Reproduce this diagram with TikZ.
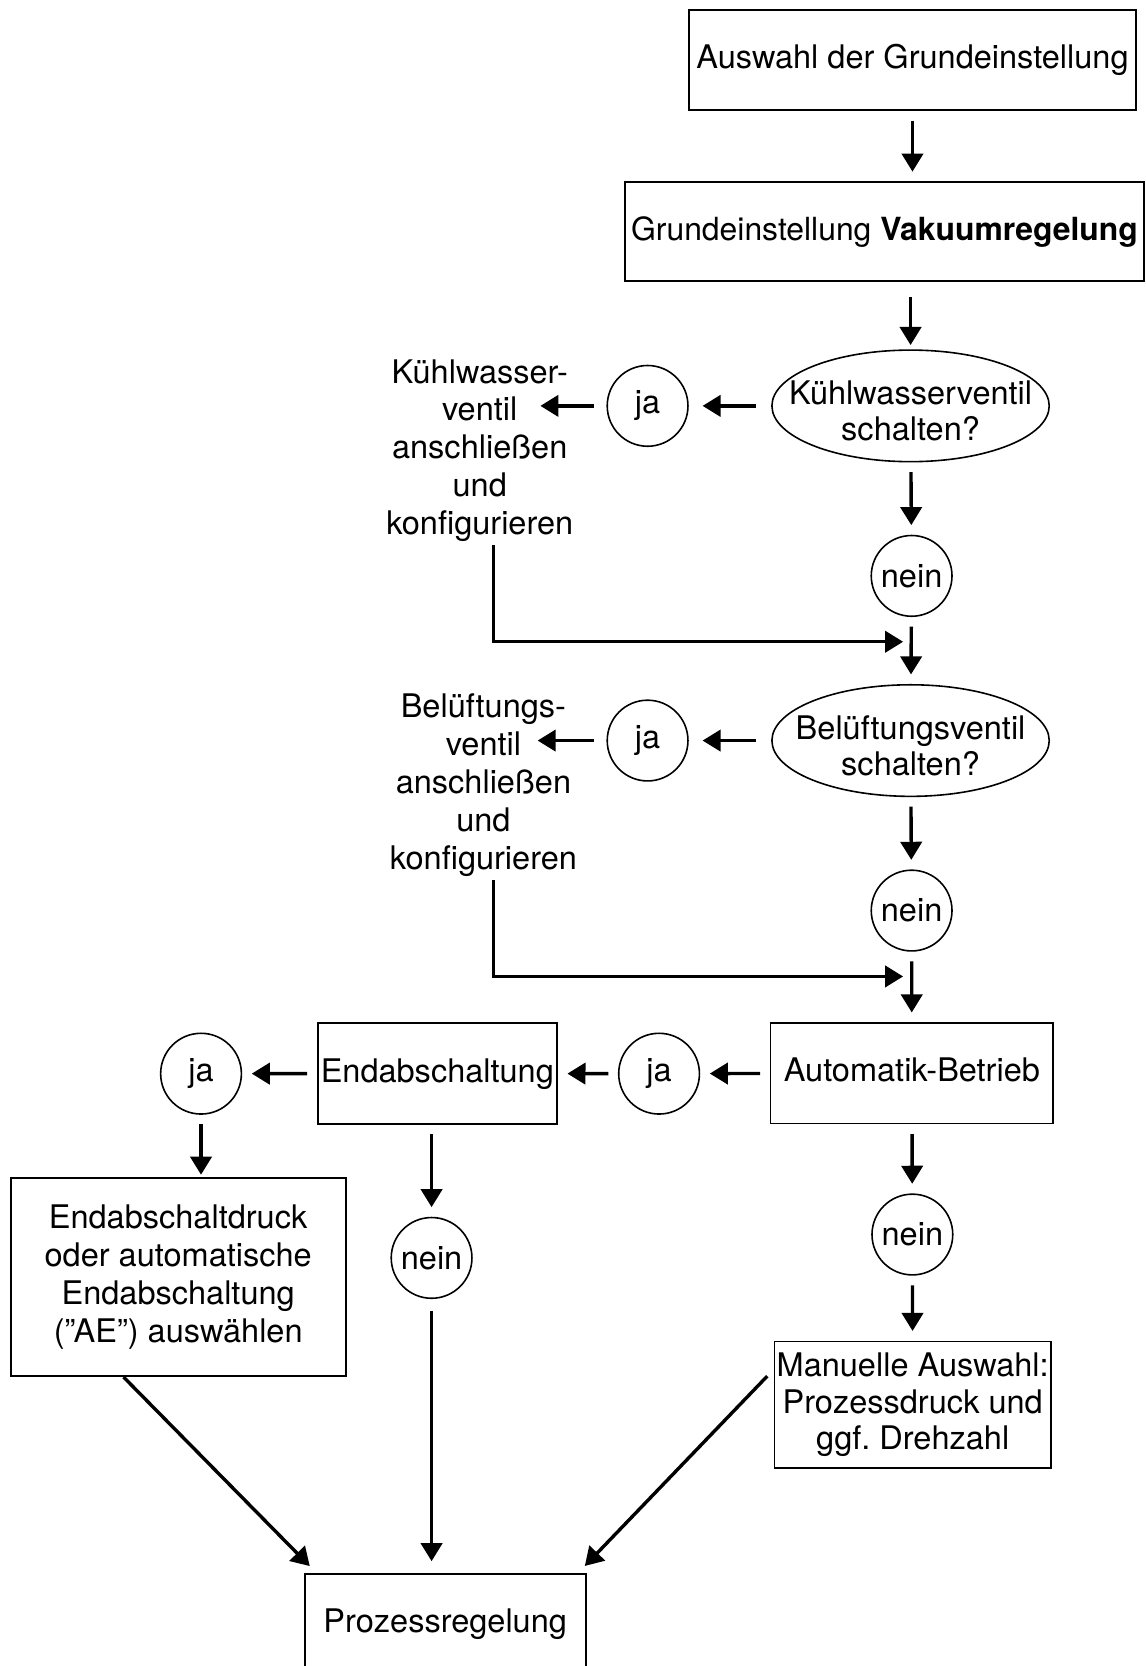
\documentclass[tikz,border=0pt]{standalone}
\usepackage{fontspec}
\setmainfont{TeX Gyre Heros}
\usetikzlibrary{shapes.geometric}
\usetikzlibrary{arrows.meta}

\begin{document}
\begin{tikzpicture}[x=0.5pt,y=-0.5pt,
    every node/.style={font=\fontsize{15.3}{17.8}\selectfont},
    box/.style={draw,line width=0.85pt,inner sep=1pt,text height=11pt,text depth=3pt},
    tallbox/.style={draw,line width=0.85pt,inner sep=1pt,align=center},
    question/.style={draw,ellipse,line width=0.75pt,inner xsep=-20pt,inner ysep=0pt,align=center,
                     font=\fontsize{15.3}{17}\selectfont,text height=33pt,text depth=0pt,
                     minimum width=130.5pt,minimum height=52.5pt},
    answer/.style={draw,circle,line width=0.75pt,inner sep=0pt,minimum size=38pt},
    note/.style={align=center,inner sep=0pt},
    flow/.style={-{Triangle[length=8.5pt,width=10pt]},line width=1.6pt,shorten <=4.5pt,shorten >=4.5pt},
    merge/.style={-{Triangle[length=8.5pt,width=10pt]},line width=1.6pt}]
    \useasboundingbox (0,0) rectangle (1078,1568);

    % top part
    \node[box,minimum width=210pt,minimum height=47.25pt] (start) at (858.8,56.5) {Auswahl der Grundeinstellung};
    \node[box,minimum width=244pt,minimum height=46.6pt,font=\fontsize{15}{17.8}\selectfont] (base) at (832.5,218)
        {Grundeinstellung \textbf{Vakuumregelung}};

    % cooling water valve
    \node[question] (kw) at (857,382) {Kühlwasserventil\\schalten?};
    \node[answer] (kwja) at (609.5,382) {ja};
    \node[note] (kwtext) at (451.5,424) {Kühlwasser-\\ventil\\anschließen\\und\\konfigurieren};
    \node[answer] (kwnein) at (858,542) {nein};
    \coordinate (kwin) at (508.6,382);
    \coordinate (kwend) at (464.6,513);
    \coordinate (kwjoin) at (850,604);

    % vent valve
    \node[question] (bl) at (857,697) {Belüftungsventil\\schalten?};
    \node[answer] (blja) at (609.5,697) {ja};
    \node[note] (bltext) at (455,739) {Belüftungs-\\ventil\\anschließen\\und\\konfigurieren};
    \node[answer] (blnein) at (858,857) {nein};
    \coordinate (blin) at (506,697);
    \coordinate (blend) at (464.6,828);
    \coordinate (bljoin) at (850,919);

    % operating mode
    \node[box,minimum width=133pt,minimum height=47.35pt] (auto) at (858.2,1010.1) {Automatik-Betrieb};
    \node[answer] (autoja) at (620.3,1010.5) {ja};
    \node[box,minimum width=112.6pt,minimum height=47.35pt] (endab) at (411.6,1010.4) {Endabschaltung};
    \node[answer] (endja) at (189.2,1010.5) {ja};
    \node[tallbox,minimum width=157.6pt,minimum height=93.35pt] (druck) at (167.7,1201.8)
        {Endabschaltdruck\\oder automatische\\Endabschaltung\\(”AE”) auswählen};
    \node[answer] (endnein) at (406.2,1183.9) {nein};
    \node[answer] (autonein) at (858.7,1161.9) {nein};
    \node[tallbox,minimum width=129.8pt,minimum height=59.6pt,font=\fontsize{15.3}{17.3}\selectfont] (manuell) at (859,1322.1)
        {Manuelle Auswahl:\\Prozessdruck und\\ggf.\ Drehzahl};
    \node[box,minimum width=132.3pt,minimum height=47.5pt] (regel) at (419,1528.7) {Prozessregelung};

    % connectors
    \draw[flow] (start.south) -- (start.south |- base.north);
    \draw[flow,shorten <=7pt,shorten >=2pt] (kw.north |- base.south) -- (kw.north);
    \draw[flow,shorten <=7pt,shorten >=6.5pt] (kw) -- (kwja);
    \draw[flow,shorten <=6pt,shorten >=0pt] (kwja) -- (kwin);
    \draw[flow] (kw) -- (kwnein);
    \draw[merge] (kwend) |- (kwjoin);
    \draw[flow] (kwnein) -- (bl);
    \draw[flow,shorten <=7pt,shorten >=6.5pt] (bl) -- (blja);
    \draw[flow,shorten <=6pt,shorten >=0pt] (blja) -- (blin);
    \draw[flow] (bl) -- (blnein);
    \draw[merge] (blend) |- (bljoin);
    \draw[flow] (blnein) -- (auto);
    \draw[flow] (auto) -- (autoja);
    \draw[flow] (autoja) -- (endab);
    \draw[flow] (endab) -- (endja);
    \draw[flow,shorten >=1pt] (endja) -- (endja |- druck.north);
    \draw[flow] (endnein |- endab.south) -- (endnein);
    \draw[flow,shorten <=5.5pt,shorten >=5.5pt] (endnein) -- (endnein |- regel.north);
    \draw[flow] (auto) -- (autonein);
    \draw[flow] (autonein) -- (manuell);
    \draw[flow,shorten <=0pt] ([xshift=53.5pt]druck.south west) -- ([xshift=6pt]regel.north west);
    \draw[flow,shorten <=0pt] ([xshift=-3pt,yshift=-16.75pt]manuell.north west) -- ([xshift=-4pt]regel.north east);
\end{tikzpicture}
\end{document}
